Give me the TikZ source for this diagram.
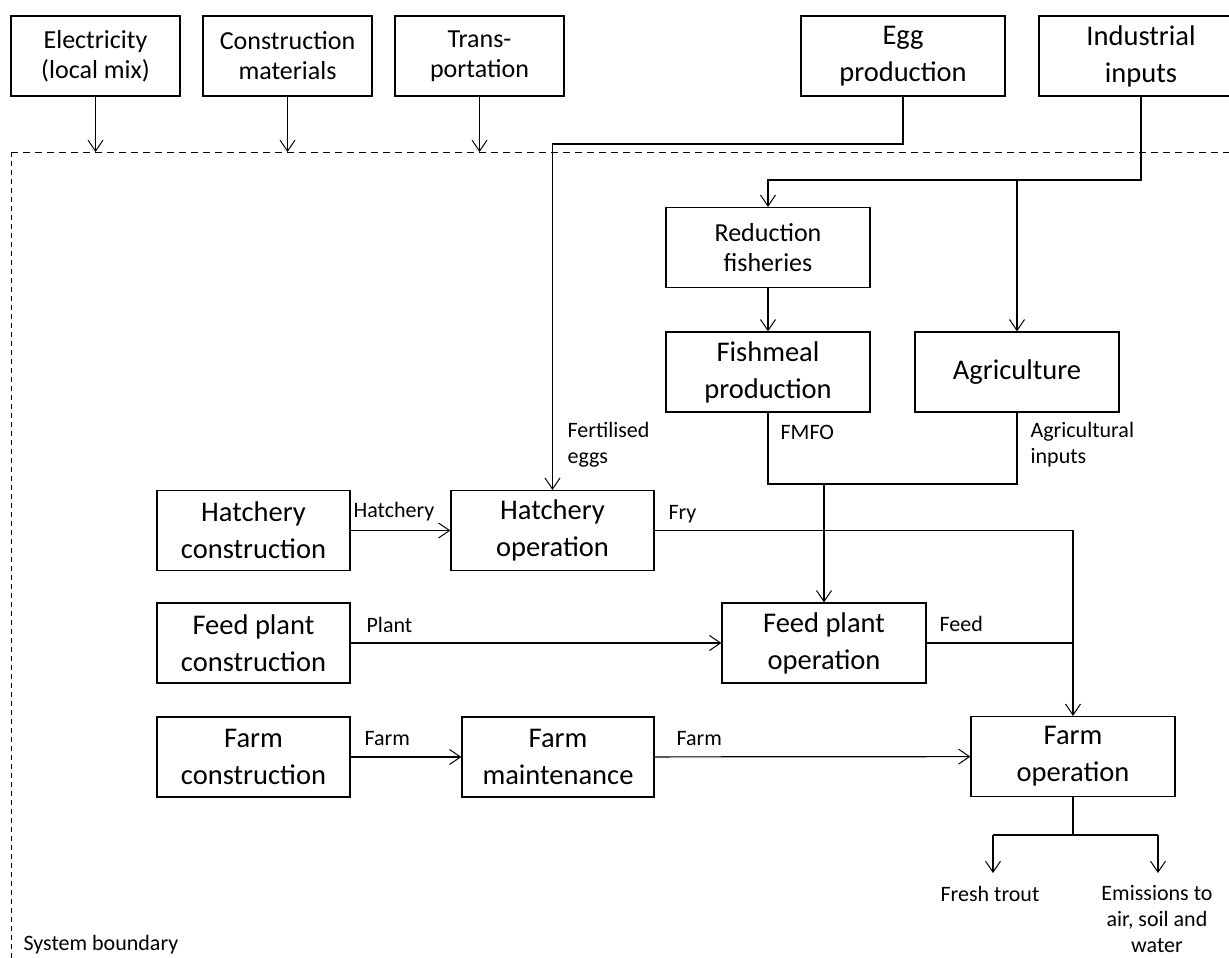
\documentclass[tikz,border=0pt]{standalone}
\usepackage{fontspec}
\setmainfont{Carlito}
\usetikzlibrary{arrows.meta}
\usetikzlibrary{calc}

\begin{document}
\begin{tikzpicture}[x=1pt,y=-1pt,
		>={Straight Barb[length=11pt,width=15pt,line width=1pt]},
		line width=1.2pt,
		box/.style={draw,minimum width=204pt,minimum height=80pt,align=center,inner sep=2pt,
			font=\fontsize{28.5}{37}\selectfont},
		smallbox/.style={box,minimum width=169pt,font=\fontsize{26}{30}\selectfont},
		flowlabel/.style={inner sep=0pt,align=left,font=\fontsize{22}{26}\selectfont}]
		
		% Frame of the figure
		\useasboundingbox (0,0) rectangle (1229,958);
		\clip (0,0) rectangle (1229,958);
		
		% Inputs from outside the system
		\foreach \x/\name/\txt in {95.5/elec/{Electricity\\(local mix)},
			287.5/constr/{Construction\\materials},
			479.5/transp/{Trans-\\portation}} {
			\node[smallbox] (\name) at (\x,56) {\txt};
		}
		\node[box] (egg) at (903,56) {Egg\\production};
		\node[box] (indus) at (1141,56) {Industrial\\inputs};
		
		% System boundary
		\coordinate (bnw) at (11,152);
		\coordinate (bne) at (1229,152);
		\coordinate (bsw) at (11,958);
		\draw[line width=0.9pt,dash pattern=on 7pt off 5pt] (bnw) -- (bne);
		\draw[line width=0.9pt,dash pattern=on 5pt off 4pt] (bnw) -- (bsw);
		\node[flowlabel,anchor=west] (sysb) at (23,945) {System boundary};
		
		\foreach \name in {elec,constr,transp}
		\draw[->] (\name.south) -- (\name.south |- bnw);
		
		% Processes inside the boundary
		\node[smallbox,minimum width=204pt] (redfish) at (768,247.5) {Reduction\\fisheries};
		\node[box] (fishmeal) at (768,372) {Fishmeal\\production};
		\node[box] (agri) at (1017,372) {Agriculture};
		\node[box,minimum width=193pt] (hatchcon) at (253.5,530.5) {Hatchery\\construction};
		\node[box,minimum width=203pt] (hatchop) at (552.5,530.5) {Hatchery\\operation};
		\node[box,minimum width=193pt] (feedcon) at (253.5,643) {Feed plant\\construction};
		\node[box] (feedop) at (824,643) {Feed plant\\operation};
		\node[box,minimum width=193pt] (farmcon) at (253.5,757) {Farm\\construction};
		\node[box,minimum width=192pt] (farmmaint) at (558,757) {Farm\\maintenance};
		\node[box] (farmop) at (1073,756.5) {Farm\\operation};
		
		% Eggs down to the hatchery
		\coordinate (eggbend) at (903,144);
		\draw[->] (egg.south) -- (eggbend) -- (hatchop.north |- eggbend) -- (hatchop.north);
		\node[flowlabel,anchor=west] (fertl) at (567,445) {Fertilised\\eggs};
		
		% Industrial inputs to fisheries and agriculture
		\coordinate (indbend) at (1141,180);
		\draw[->] (indus.south) -- (indbend) -- (redfish.north |- indbend) -- (redfish.north);
		\draw[->] (agri.north |- indbend) -- (agri.north);
		\draw[->] (redfish) -- (fishmeal);
		
		% Feed ingredients
		\coordinate (mix) at (824,484);
		\draw (fishmeal.south) -- (fishmeal.south |- mix) -- (agri.south |- mix) -- (agri.south);
		\draw[->] (mix) -- (feedop.north);
		\node[flowlabel,anchor=west] (fmfol) at (780,432) {FMFO};
		\node[flowlabel,anchor=west] (agril) at (1030,445) {Agricultural\\inputs};
		
		% Infrastructure flows
		\draw[->] (hatchcon) -- (hatchop);
		\node[flowlabel,anchor=west] (hatchl) at (353,512) {Hatchery};
		\draw[->] (feedcon) -- (feedop);
		\node[flowlabel,anchor=west] (plantl) at (366,625) {Plant};
		\draw[->] (farmcon) -- (farmmaint);
		\node[flowlabel,anchor=west] (farml) at (364,739) {Farm};
		\draw[->] (farmmaint) -- (farmop);
		\node[flowlabel,anchor=west] (maintl) at (676,739) {Farm};
		
		% Fry and feed to the farm
		\coordinate (frybend) at (1073,530.5);
		\draw[->] (hatchop.east) -- (frybend) -- (farmop.north);
		\node[flowlabel,anchor=west] (fryl) at (668,514) {Fry};
		\draw (feedop.east) -- (feedop.east -| frybend);
		\node[flowlabel,anchor=west] (feedl) at (939,624) {Feed};
		
		% Outputs of the farm
		\coordinate (outsplit) at (1073,835);
		\coordinate (troutbend) at (993,835);
		\coordinate (emisbend) at (1158,835);
		\coordinate (troutend) at (993,873);
		\coordinate (emisend) at (1158,873);
		\draw (farmop.south) -- (outsplit);
		\draw (troutbend) -- (emisbend);
		\draw[->] (troutbend) -- (troutend);
		\draw[->] (emisbend) -- (emisend);
		\node[flowlabel,align=center] (trout) at (990,894) {Fresh trout};
		\node[flowlabel,align=center] (emis) at (1157,919) {Emissions to\\air, soil and\\water};
	\end{tikzpicture}
\end{document}
